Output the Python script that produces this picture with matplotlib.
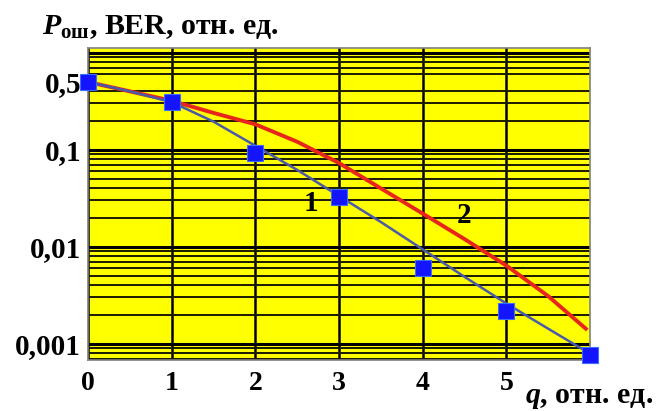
import matplotlib.pyplot as plt
import numpy as np
from matplotlib.ticker import LogLocator, FixedLocator, FixedFormatter, NullFormatter

plt.rcParams['font.family'] = ['Liberation Serif', 'DejaVu Serif']
plt.rcParams['font.weight'] = 'bold'
plt.rcParams['mathtext.fontset'] = 'custom'
plt.rcParams['mathtext.rm'] = 'Liberation Serif:bold'
plt.rcParams['mathtext.it'] = 'Liberation Serif:italic:bold'
plt.rcParams['mathtext.bf'] = 'Liberation Serif:bold'

# кривая 1
q_line = [0, 0.5, 1, 1.5, 2, 2.5, 3, 3.5, 4, 4.5, 5, 5.5, 6]
ber1 = [0.5, 0.40, 0.31, 0.195, 0.11, 0.062, 0.0334, 0.018, 0.0094, 0.0049, 0.0026, 0.00143, 0.00079]
# кривая 2
q_red = [0, 0.5, 1, 1.5, 2, 2.5, 3, 3.5, 4, 4.5, 5, 5.5, 5.95]
ber2 = [0.5, 0.40, 0.32, 0.24, 0.183, 0.121, 0.073, 0.040, 0.022, 0.012, 0.0064, 0.0031, 0.00143]
# точки
q_pts = [0, 1, 2, 3, 4, 5, 6]
ber_pts = [0.5, 0.31, 0.093, 0.0326, 0.0061, 0.0022, 0.00077]

y_ticks = [0.5, 0.1, 0.01, 0.001]
y_labels = ['0,5', '0,1', '0,01', '0,001']
x_ticks = [0, 1, 2, 3, 4, 5]

fig = plt.figure(figsize=(6.57, 4.11), dpi=100)
ax = fig.add_axes([88/657, 1-360/411, 502/657, 312/411])
ax.set_facecolor('#ffff00')

ax.set_yscale('log')
ax.set_xlim(0, 6)
ax.set_ylim(0.00068, 1.12)

# сетка
ax.yaxis.set_minor_locator(LogLocator(base=10, subs=np.arange(2, 10), numticks=10))
ax.grid(True, which='minor', axis='y', color='#1a1a00', lw=1.4)
ax.set_xticks(x_ticks)
ax.grid(True, which='major', axis='x', color='black', lw=1.8)
ax.set_axisbelow(True)
for yv in [1, 0.1, 0.01, 0.001]:
    ax.axhline(yv, color='black', lw=2.2, zorder=1)

ax.plot(q_red, ber2, color='#e8251a', lw=2.8, zorder=3)
ax.plot(q_line, ber1, color='#4a5aa8', lw=1.8, zorder=4)
ax.plot(q_pts, ber_pts, 's', color='#1414ff', ms=11, mec='#3a6cff', mew=0.8, zorder=5, clip_on=False)

ax.yaxis.set_major_locator(FixedLocator(y_ticks))
ax.yaxis.set_major_formatter(FixedFormatter(y_labels))
ax.yaxis.set_minor_formatter(NullFormatter())
ax.tick_params(axis='both', which='both', length=0)
ax.tick_params(axis='y', labelsize=21, pad=5)
ax.tick_params(axis='x', labelsize=20, pad=8)

for s in ax.spines.values():
    s.set_color('#808080')
    s.set_linewidth(1.2)

fig.text(42/657, 1-34/411, r'$\mathit{P}_{\mathrm{ош}}$, BER, отн. ед.', fontsize=21.5,
         fontweight='bold', ha='left', va='baseline')
fig.text(525/657, 1-403/411, r'$\mathit{q}$, отн. ед.', fontsize=21.5,
         fontweight='bold', ha='left', va='baseline')

ax.text(2.67, 0.028, '1', fontsize=21, fontweight='bold', ha='center', va='center')
ax.text(4.5, 0.021, '2', fontsize=21, fontweight='bold', ha='center', va='center')

plt.savefig('out.png', dpi=100)
